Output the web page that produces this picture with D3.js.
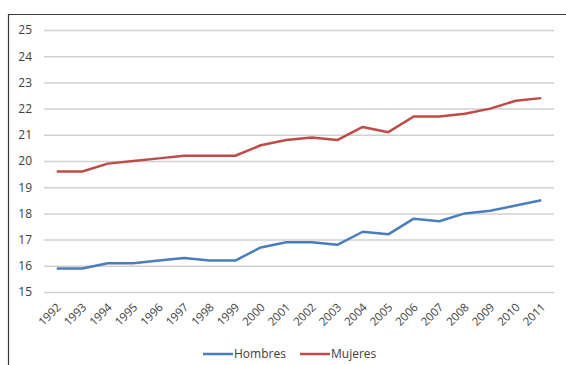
<!DOCTYPE html>
<html>
<head>
<meta charset="utf-8">
<script src="https://cdn.jsdelivr.net/npm/d3@7"></script>
<style>
  html, body { margin: 0; padding: 0; background: #fff; }
  svg { display: block; }
</style>
</head>
<body>
<svg id="chart" width="566" height="365"></svg>
<script>
// Years on the category axis
const years = ["1992","1993","1994","1995","1996","1997","1998","1999","2000","2001",
               "2002","2003","2004","2005","2006","2007","2008","2009","2010","2011"];
// Series values
const hombres = [15.9,15.9,16.1,16.1,16.2,16.3,16.2,16.2,16.7,16.9,
                 16.9,16.8,17.3,17.2,17.8,17.7,18.0,18.1,18.3,18.5];
const mujeres = [19.6,19.6,19.9,20.0,20.1,20.2,20.2,20.2,20.6,20.8,
                 20.9,20.8,21.3,21.1,21.7,21.7,21.8,22.0,22.3,22.4];
// Value axis ticks
const yTicks = [15,16,17,18,19,20,21,22,23,24,25];

const series = [
  { name: "Hombres", values: hombres, color: "#4a7ebb" },
  { name: "Mujeres", values: mujeres, color: "#be4b48" }
];

const svg = d3.select("#chart");
const font = "'Open Sans', 'Noto Sans', sans-serif";

// Chart frame (top and left edges)
svg.append("path")
  .attr("d", "M8.5,365 V14.5 H566")
  .attr("fill", "none")
  .attr("stroke", "#3a3a3a")
  .attr("stroke-width", 1.2);

const plot = { left: 44, right: 554, top: 30, bottom: 292 };

const x = d3.scaleBand().domain(years).range([plot.left, plot.right]);
const y = d3.scaleLinear().domain([15, 25]).range([plot.bottom, plot.top]);

// Horizontal gridlines with value labels
const yAxis = d3.axisLeft(y).tickValues(yTicks).tickSize(-(plot.right - plot.left)).tickPadding(12).tickFormat(d3.format("d"));
const gy = svg.append("g").attr("transform", `translate(${plot.left},0)`).call(yAxis);
gy.select(".domain").remove();
gy.selectAll(".tick line").attr("stroke", "#d0d0d0").attr("stroke-width", 1.5);
gy.selectAll(".tick text").attr("fill", "#404040").style("font-family", font).style("font-size", "12px");

// Category labels, rotated
const xAxis = d3.axisBottom(x).tickSize(0).tickPadding(0);
const gx = svg.append("g").attr("transform", `translate(0,${plot.bottom})`).call(xAxis);
gx.select(".domain").remove();
gx.selectAll(".tick text")
  .attr("fill", "#404040")
  .style("font-family", font)
  .style("font-size", "11.5px")
  .attr("text-anchor", "end")
  .attr("dy", "0")
  .attr("transform", "translate(5,16) rotate(-45)");

// Lines
const line = d3.line()
  .x((d, i) => x(years[i]) + x.bandwidth() / 2)
  .y(d => y(d));

svg.append("g").selectAll("path")
  .data(series)
  .join("path")
  .attr("d", d => line(d.values))
  .attr("fill", "none")
  .attr("stroke", d => d.color)
  .attr("stroke-width", 2.5)
  .attr("stroke-linejoin", "round");

// Legend
const legendX = [203, 300];
const lg = svg.append("g").selectAll("g")
  .data(series)
  .join("g")
  .attr("transform", (d, i) => `translate(${legendX[i]},354)`);
lg.append("line")
  .attr("x1", 0).attr("x2", 30)
  .attr("stroke", d => d.color)
  .attr("stroke-width", 2.5);
lg.append("text")
  .attr("x", 31)
  .attr("dy", "0.35em")
  .attr("fill", "#404040")
  .style("font-family", font)
  .style("font-size", "12px")
  .text(d => d.name);
</script>
</body>
</html>
